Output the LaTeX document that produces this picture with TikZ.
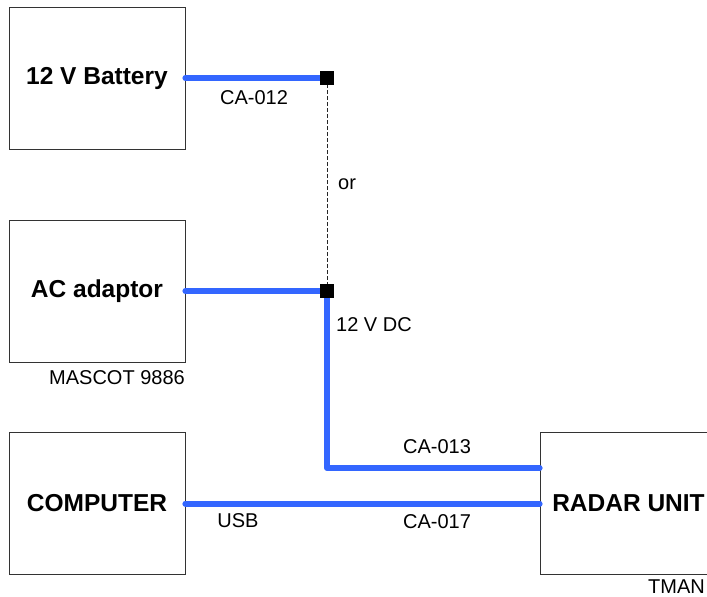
\documentclass[tikz,border=0pt]{standalone}
\usepackage{fontspec}
\setmainfont{Liberation Sans}
\usetikzlibrary{positioning,calc}
\definecolor{cable}{RGB}{51,102,255}
\tikzset{
unit/.style={
  draw=black!80,
  line width=0.8pt,
  minimum width=176pt,
  minimum height=142pt,
  inner sep=0pt,
  font=\fontsize{24.5}{28}\selectfont\bfseries
  },
wire/.style={cable,line width=6pt,line cap=round,line join=round},
jct/.style={fill=black,minimum size=14pt,inner sep=0pt},
lbl/.style={font=\fontsize{20}{24}\selectfont,inner sep=0pt}
}

\begin{document}
\begin{tikzpicture}[x=1pt,y=-1pt]
\useasboundingbox (0,0) rectangle (707,597);
% units
\node[unit] (battery) at (97,78) {12 V Battery};
\node[unit] (adaptor) at (97,291) {AC adaptor};
\node[unit] (computer) at (97,503.5) {COMPUTER};
\node[unit,minimum width=177pt] (radar) at (628.5,503.5) {RADAR UNIT};
% junctions
\coordinate (jb) at (327,78);
\coordinate (ja) at (327,291);
\coordinate (bend) at (327,468);
% cables
\draw[black!85,line width=0.8pt,dash pattern=on 4pt off 2pt] (jb) -- (ja);
\draw[wire] (battery.east) -- (jb);
\draw[wire] (adaptor.east) -- (ja);
\draw[wire] (ja) -- (bend) -- (bend -| radar.west);
\draw[wire] (computer.east) -- (radar.west);
\node[jct] (jbox) at (jb) {};
\node[jct] (jabox) at (ja) {};
% labels
\node[lbl] (ca012) at (254,98) {CA-012};
\node[lbl,anchor=west] (or) at (338,184) {or};
\node[lbl,anchor=west] (dc) at (336,325) {12 V DC};
\node[lbl,anchor=east] (mascot) at (185,378) {MASCOT 9886};
\node[lbl] (ca013) at (437,447) {CA-013};
\node[lbl] (ca017) at (437,522) {CA-017};
\node[lbl] (usb) at (238,521) {USB};
\node[lbl,anchor=east] (tman) at (705,587) {TMAN};
\end{tikzpicture}
\end{document}
